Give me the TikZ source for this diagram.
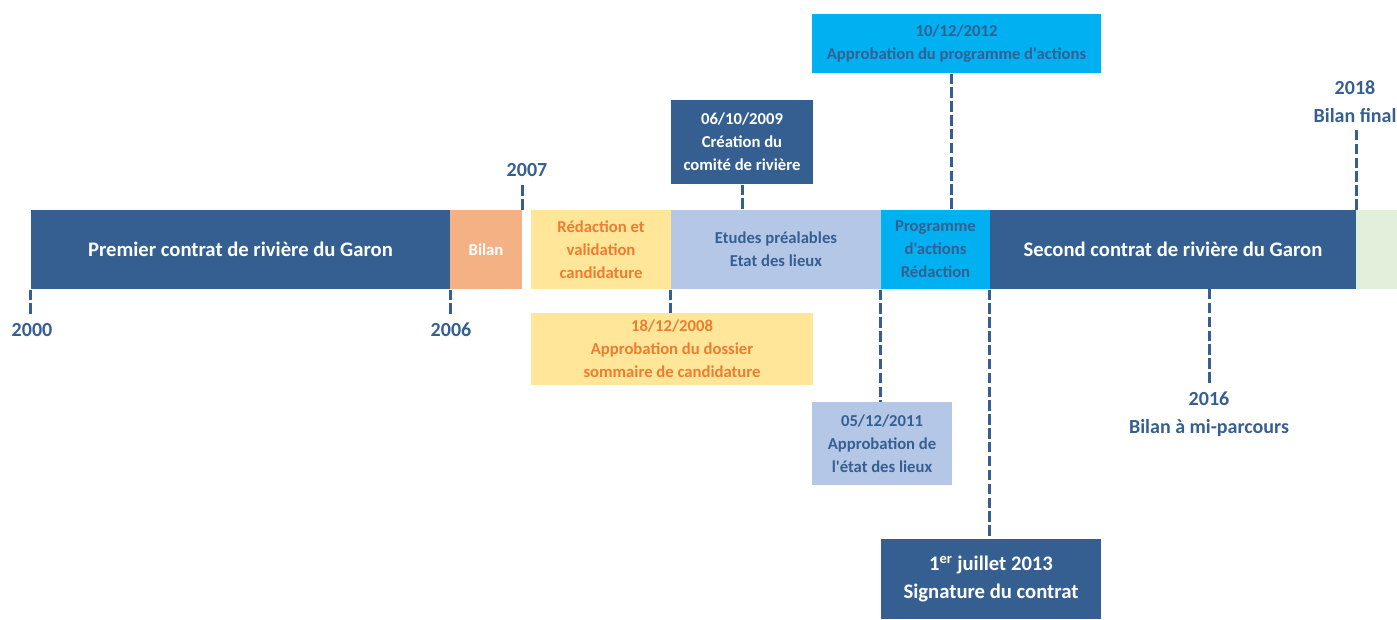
\documentclass[tikz,border=0pt]{standalone}
\usepackage{fontspec}
\setmainfont{Carlito}[Ligatures=TeXOff]

\definecolor{garonBlue}{RGB}{54,95,145}
\definecolor{bilanOrange}{RGB}{244,177,131}
\definecolor{candYellow}{RGB}{255,230,153}
\definecolor{etudeBlue}{RGB}{180,199,231}
\definecolor{progCyan}{RGB}{0,176,240}
\definecolor{finGreen}{RGB}{226,239,218}
\definecolor{textOrange}{RGB}{237,125,49}

\tikzset{every picture/.style={line width=0.75pt}}
\tikzset{
  phase/.style={inner sep=0pt, align=center, minimum height=79*0.75pt, font=\bfseries\fontsize{12.5}{17.25}\selectfont},
  phasebig/.style={phase, fill=garonBlue, text=white, font=\bfseries\fontsize{15.5}{17.25}\selectfont},
  event/.style={inner sep=0pt, align=center, font=\bfseries\fontsize{12.5}{17.25}\selectfont},
  yearlbl/.style={inner sep=0pt, outer sep=5pt, align=center, text=garonBlue, font=\bfseries\fontsize{15}{21}\selectfont},
  tick/.style={draw=garonBlue, line width=2.25pt, dash pattern=on 7.8pt off 2.6pt},
}

\begin{document}
\begin{tikzpicture}[x=0.75pt,y=0.75pt,yscale=-1,xscale=1]
\path [use as bounding box] (0,0) rectangle (1397,619);

%Shape: Timeline bar
\node [phasebig, minimum width=419*0.75pt] (premier) at (240.5,249.5) {Premier contrat de rivière du Garon};
\node [phase, fill=bilanOrange, text=white, minimum width=72*0.75pt] (bilan) at (486,249.5) {Bilan};
\node [phase, fill=candYellow, text=textOrange, minimum width=140*0.75pt] (redac) at (601,249.5) {Rédaction et\\validation\\candidature};
\node [phase, fill=etudeBlue, text=garonBlue, minimum width=210*0.75pt] (etudes) at (776,249.5) {Etudes préalables\\Etat des lieux};
\node [phase, fill=progCyan, text=garonBlue, minimum width=109*0.75pt] (prog) at (935.5,249.5) {Programme\\d'actions\\Rédaction};
\node [phasebig, minimum width=366*0.75pt] (second) at (1173,249.5) {Second contrat de rivière du Garon};
\node [phase, fill=finGreen, minimum width=41*0.75pt] (fin) at (1376.5,249.5) {};

%Shape: Event boxes
\node [event, fill=garonBlue, text=white, minimum width=142*0.75pt, minimum height=84*0.75pt] (comite) at (742,142) {06/10/2009\\Création du\\comité de rivière};
\node [event, fill=progCyan, text=garonBlue, minimum width=289*0.75pt, minimum height=59*0.75pt] (approg) at (956.5,43.5) {10/12/2012\\Approbation du programme d'actions};
\node [event, fill=candYellow, text=textOrange, minimum width=282*0.75pt, minimum height=72*0.75pt] (dossier) at (672,349) {18/12/2008\\Approbation du dossier\\sommaire de candidature};
\node [event, fill=etudeBlue, text=garonBlue, minimum width=140*0.75pt, minimum height=83*0.75pt] (etat) at (882,443.5) {05/12/2011\\Approbation de\\l'état des lieux};
\node [event, fill=garonBlue, text=white, font=\bfseries\fontsize{15.5}{21}\selectfont, minimum width=220*0.75pt, minimum height=80*0.75pt] (signature) at (991,579) {1\textsuperscript{er} juillet 2013\\Signature du contrat};

% Text Node
\node [yearlbl] (y2000) at (32,330) {2000};
% Text Node
\node [yearlbl] (y2006) at (451,330) {2006};
% Text Node
\node [yearlbl] (y2007) at (527,170) {2007};
% Text Node
\node [yearlbl] (y2016) at (1209,414) {2016\\Bilan à mi-parcours};
% Text Node
\node [yearlbl] (y2018) at (1355,101.5) {2018\\Bilan final};

\coordinate (t2012) at (951,210);
\coordinate (t2016) at (1209,289);

%Straight Lines: ticks
\draw [tick] (premier.south west) -- (premier.south west |- y2000.north);
\draw [tick] (premier.south east) -- (premier.south east |- y2006.north);
\draw [tick] (bilan.north east) -- (bilan.north east |- y2007.south);
\draw [tick] (comite.south) -- (comite.south |- etudes.north);
\draw [tick] (etudes.south west) -- (etudes.south west |- dossier.north);
\draw [tick] (approg.south -| t2012) -- (t2012);
\draw [tick] (prog.south west) -- (prog.south west |- etat.north);
\draw [tick] (second.south west) -- (second.south west |- signature.north);
\draw [tick] (t2016) -- (t2016 |- y2016.north);
\draw [tick] (second.north east) -- (second.north east |- y2018.south);

\end{tikzpicture}
\end{document}
